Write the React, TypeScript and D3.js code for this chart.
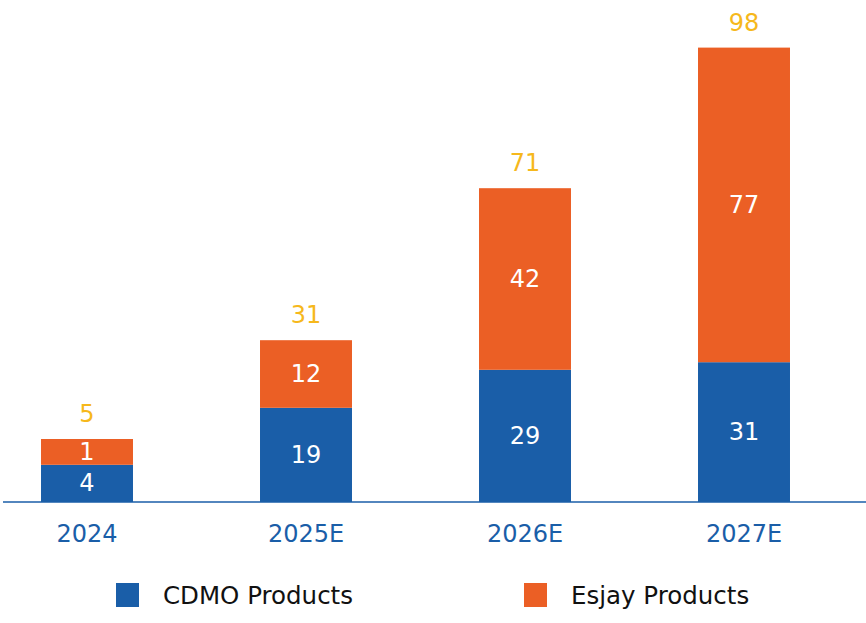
import React, { useEffect, useRef } from "react";
import * as d3 from "d3";

const years = ["2024", "2025E", "2026E", "2027E"];
const cdmo = [4, 19, 29, 31];
const esjay = [1, 12, 42, 77];
const totals = [5, 31, 71, 98];
const seriesNames = ["CDMO Products", "Esjay Products"];

const BLUE = "#1a5ea8";
const ORANGE = "#eb5f25";
const GOLD = "#f6b81c";
const FONT = "'DejaVu Sans', sans-serif";

const App: React.FC = () => {
  const svgRef = useRef<SVGSVGElement>(null);

  useEffect(() => {
    if (!svgRef.current) return;
    const svg = d3.select(svgRef.current);
    svg.selectAll("*").remove();

    const width = 866;
    const height = 623;
    const baseY = 502;

    svg.attr("width", width).attr("height", height);

    const x = d3
      .scaleBand<string>()
      .domain(years)
      .range([-22.5, 853.5])
      .paddingInner(0.58)
      .paddingOuter(0.29);

    // infographic-style segment scale (each segment gets a minimum height)
    const segH = d3.scaleLinear().domain([0, 77]).range([22, 22 + 3.8 * 77]);

    // axis line
    svg
      .append("line")
      .attr("x1", 3)
      .attr("x2", width)
      .attr("y1", baseY)
      .attr("y2", baseY)
      .attr("stroke", BLUE)
      .attr("stroke-width", 1.5);

    years.forEach((year, i) => {
      const bx = x(year) || 0;
      const bw = x.bandwidth();
      const cx = bx + bw / 2;
      const hBlue = segH(cdmo[i]);
      const hOrange = segH(esjay[i]);
      const blueTop = baseY - hBlue;
      const orangeTop = blueTop - hOrange;

      const g = svg.append("g");

      g.append("rect")
        .attr("x", bx)
        .attr("y", blueTop)
        .attr("width", bw)
        .attr("height", hBlue)
        .attr("fill", BLUE);

      g.append("rect")
        .attr("x", bx)
        .attr("y", orangeTop)
        .attr("width", bw)
        .attr("height", hOrange)
        .attr("fill", ORANGE);

      g.append("text")
        .attr("x", cx)
        .attr("y", blueTop + hBlue / 2)
        .attr("text-anchor", "middle")
        .attr("dominant-baseline", "central")
        .style("font-family", FONT)
        .style("font-size", "24px")
        .style("fill", "#fff")
        .text(cdmo[i]);

      g.append("text")
        .attr("x", cx)
        .attr("y", orangeTop + hOrange / 2)
        .attr("text-anchor", "middle")
        .attr("dominant-baseline", "central")
        .style("font-family", FONT)
        .style("font-size", "24px")
        .style("fill", "#fff")
        .text(esjay[i]);

      g.append("text")
        .attr("x", cx)
        .attr("y", orangeTop - 25)
        .attr("text-anchor", "middle")
        .attr("dominant-baseline", "central")
        .style("font-family", FONT)
        .style("font-size", "24px")
        .style("fill", GOLD)
        .text(totals[i]);

      g.append("text")
        .attr("x", cx)
        .attr("y", 534)
        .attr("text-anchor", "middle")
        .attr("dominant-baseline", "central")
        .style("font-family", FONT)
        .style("font-size", "24px")
        .style("fill", BLUE)
        .text(year);
    });

    // legend
    const legendItems = [
      { name: seriesNames[0], color: BLUE, x: 116 },
      { name: seriesNames[1], color: ORANGE, x: 524 },
    ];
    legendItems.forEach((item) => {
      svg
        .append("rect")
        .attr("x", item.x)
        .attr("y", 583)
        .attr("width", 23)
        .attr("height", 24)
        .attr("fill", item.color);
      svg
        .append("text")
        .attr("x", item.x + 47)
        .attr("y", 595)
        .attr("dominant-baseline", "central")
        .style("font-family", FONT)
        .style("font-size", "24.5px")
        .style("fill", "#111")
        .text(item.name);
    });
  }, []);

  return (
    <svg
      ref={svgRef}
      style={{ position: "absolute", left: 0, top: 0, background: "#fff" }}
    ></svg>
  );
};

export default App;
